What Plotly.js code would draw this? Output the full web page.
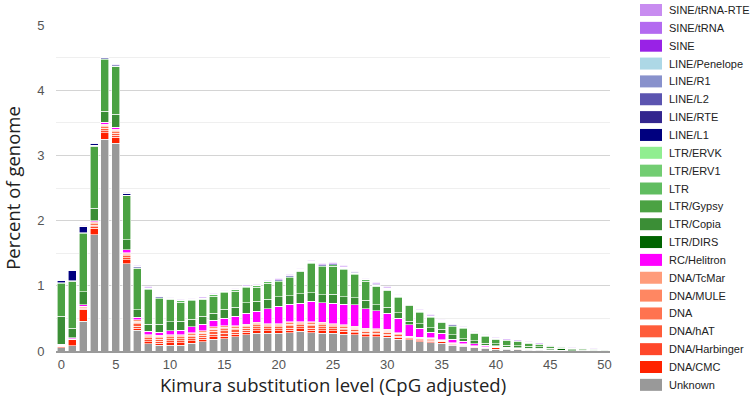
<!DOCTYPE html>
<html>
<head>
<meta charset="utf-8">
<script src="https://cdn.plot.ly/plotly-3.0.1.min.js"></script>
<style>
  html, body { margin: 0; padding: 0; background: #fff; }
  #repeatLandscape { width: 750px; height: 410px; }
</style>
</head>
<body>
<div id="repeatLandscape"></div>
<script>
// Kimura divergence bins (x axis)
const kimura = [0, 1, 2, 3, 4, 5, 6, 7, 8, 9, 10, 11, 12, 13, 14, 15, 16, 17, 18, 19, 20,
    21, 22, 23, 24, 25, 26, 27, 28, 29, 30, 31, 32, 33, 34, 35, 36, 37, 38, 39, 40,
    41, 42, 43, 44, 45, 46, 47, 48, 49, 50];

// percent of genome per repeat class, bottom of the stack first
const unknown = [0.05, 0.08, 0.46, 1.78, 3.25, 3.19, 1.34, 0.32, 0.11, 0.09, 0.09, 0.09, 0.12, 0.14, 0.18, 0.19, 0.22, 0.25, 0.27, 0.27, 0.27,
    0.28, 0.30, 0.28, 0.27, 0.27, 0.26, 0.25, 0.22, 0.22, 0.21, 0.18, 0.17, 0.14, 0.13, 0.12, 0.09, 0.07, 0.05, 0.04, 0.03,
    0.025, 0.02, 0.015, 0.01, 0.005, 0.005, 0.003, 0.002, 0.002, 0.002];
const dnaCMC = [0.02, 0.09, 0.18, 0.10, 0.10, 0.09, 0.06, 0.03, 0.03, 0.03, 0.04, 0.04, 0.04, 0.04, 0.04, 0.04, 0.04, 0.04, 0.04, 0.04, 0.04,
    0.04, 0.04, 0.04, 0.04, 0.04, 0.04, 0.03, 0.03, 0.03, 0.03, 0.03, 0.02, 0.02, 0.02, 0.02, 0.01, 0.01, 0.01, 0.01, 0.02,
    0.015, 0.01, 0.01, 0.01, 0.005, 0.003, 0.002, 0, 0, 0];
const dnaHarbinger = [0.005, 0.005, 0.015, 0.025, 0.03, 0.03, 0.03, 0.03, 0.03, 0.03, 0.03, 0.03, 0.03, 0.03, 0.04, 0.04, 0.03, 0.03, 0.03, 0.03, 0.03,
    0.03, 0.03, 0.03, 0.03, 0.03, 0.025, 0.025, 0.025, 0.02, 0.02, 0.02, 0.01, 0.01, 0.01, 0.01, 0.01, 0.01, 0.005, 0.005, 0.005,
    0.003, 0.003, 0.003, 0.003, 0.002, 0.001, 0, 0, 0, 0];
const dnaHAT = [0.005, 0.005, 0.01, 0.025, 0.035, 0.03, 0.03, 0.035, 0.03, 0.03, 0.03, 0.03, 0.03, 0.035, 0.04, 0.04, 0.035, 0.03, 0.035, 0.03, 0.03,
    0.035, 0.03, 0.035, 0.035, 0.03, 0.025, 0.025, 0.025, 0.025, 0.025, 0.02, 0.01, 0.015, 0.015, 0.008, 0.008, 0.008, 0.005, 0.004, 0.005,
    0.003, 0.003, 0.003, 0.003, 0.001, 0.001, 0.001, 0.001, 0.001, 0.001];
const dnaOther = [0.004, 0.004, 0.01, 0.02, 0.025, 0.025, 0.02, 0.025, 0.02, 0.025, 0.025, 0.025, 0.025, 0.025, 0.03, 0.03, 0.025, 0.025, 0.025, 0.02, 0.02,
    0.025, 0.02, 0.025, 0.025, 0.02, 0.02, 0.02, 0.02, 0.02, 0.02, 0.015, 0.01, 0.01, 0.01, 0.006, 0.006, 0.006, 0.005, 0.003, 0.005,
    0.002, 0.002, 0.002, 0.002, 0.001, 0.001, 0, 0, 0, 0];
const dnaMULE = [0.003, 0.003, 0.008, 0.015, 0.02, 0.018, 0.015, 0.02, 0.015, 0.018, 0.018, 0.018, 0.018, 0.02, 0.02, 0.025, 0.02, 0.018, 0.02, 0.015, 0.015,
    0.02, 0.015, 0.02, 0.02, 0.015, 0.015, 0.015, 0.015, 0.013, 0.013, 0.008, 0.005, 0.008, 0.008, 0.003, 0.003, 0.003, 0.003, 0.002, 0.003,
    0.001, 0.001, 0.001, 0.001, 0.001, 0, 0, 0, 0, 0];
const dnaTcMar = [0.003, 0.003, 0.007, 0.015, 0.02, 0.017, 0.015, 0.02, 0.015, 0.017, 0.017, 0.017, 0.017, 0.02, 0.02, 0.025, 0.02, 0.017, 0.02, 0.015, 0.015,
    0.02, 0.015, 0.02, 0.02, 0.015, 0.015, 0.015, 0.015, 0.012, 0.012, 0.007, 0.005, 0.007, 0.007, 0.003, 0.003, 0.003, 0.002, 0.001, 0.002,
    0.001, 0.001, 0.001, 0.001, 0, 0, 0, 0, 0, 0];
const rcHelitron = [0.015, 0.01, 0.02, 0.02, 0.03, 0.03, 0.04, 0.04, 0.05, 0.05, 0.06, 0.07, 0.09, 0.10, 0.10, 0.11, 0.14, 0.17, 0.17, 0.23, 0.27,
    0.27, 0.28, 0.31, 0.30, 0.31, 0.32, 0.33, 0.30, 0.28, 0.25, 0.22, 0.17, 0.14, 0.09, 0.10, 0.05, 0.04, 0.03, 0.025, 0.005,
    0.005, 0.003, 0.002, 0.002, 0.001, 0.001, 0, 0, 0, 0];
const ltrDIRS = [0, 0, 0, 0, 0, 0, 0, 0, 0, 0, 0, 0, 0, 0, 0, 0, 0, 0, 0, 0, 0,
    0, 0, 0, 0, 0, 0, 0, 0, 0, 0, 0, 0, 0, 0, 0, 0, 0, 0, 0, 0.003,
    0.003, 0.004, 0.005, 0.01, 0.02, 0.02, 0.015, 0.012, 0.01, 0.008];
const ltrCopia = [0.43, 0.15, 0.20, 0.19, 0.17, 0.20, 0.16, 0.11, 0.11, 0.12, 0.14, 0.14, 0.12, 0.12, 0.11, 0.14, 0.14, 0.16, 0.15, 0.14, 0.14,
    0.13, 0.15, 0.13, 0.12, 0.14, 0.11, 0.11, 0.13, 0.09, 0.09, 0.09, 0.06, 0.07, 0.07, 0.06, 0.07, 0.04, 0.05, 0.03, 0.03,
    0.03, 0.03, 0.03, 0.025, 0.01, 0.01, 0.01, 0.008, 0.007, 0.006];
const ltrGypsy = [0.50, 0.72, 0.89, 0.95, 0.79, 0.73, 0.67, 0.64, 0.53, 0.39, 0.34, 0.29, 0.28, 0.26, 0.26, 0.25, 0.25, 0.23, 0.22, 0.25, 0.23,
    0.27, 0.34, 0.45, 0.43, 0.43, 0.42, 0.35, 0.29, 0.28, 0.26, 0.23, 0.24, 0.17, 0.15, 0.11, 0.12, 0.15, 0.11, 0.10, 0.075,
    0.075, 0.07, 0.05, 0.035, 0.03, 0.015, 0.01, 0.008, 0.007, 0.005];
const ltrOther = [0.01, 0.01, 0.01, 0.01, 0.01, 0.01, 0.01, 0.01, 0.02, 0.02, 0.02, 0.02, 0.02, 0.02, 0.02, 0.02, 0.02, 0.02, 0.02, 0.02, 0.02,
    0.02, 0.02, 0.02, 0.02, 0.02, 0.02, 0.02, 0.02, 0.02, 0.02, 0.02, 0.02, 0.02, 0.02, 0.02, 0.02, 0.02, 0.02, 0.02, 0.01,
    0.01, 0.01, 0.01, 0.01, 0.005, 0.005, 0.005, 0.005, 0.005, 0.005];
const ltrERV1 = [0, 0, 0, 0.002, 0.002, 0.002, 0, 0, 0, 0, 0, 0, 0, 0, 0, 0, 0, 0, 0, 0, 0,
    0, 0, 0, 0, 0, 0, 0, 0, 0, 0, 0, 0, 0, 0, 0, 0, 0, 0, 0, 0,
    0, 0, 0, 0, 0, 0, 0, 0, 0, 0];
const ltrERVK = [0, 0, 0, 0, 0, 0, 0, 0, 0, 0, 0, 0, 0, 0, 0, 0, 0, 0, 0, 0, 0,
    0, 0, 0, 0, 0, 0, 0, 0, 0, 0, 0, 0, 0, 0, 0, 0, 0, 0, 0, 0,
    0, 0, 0, 0, 0, 0, 0, 0, 0, 0];
const lineL1 = [0.04, 0.15, 0.10, 0.03, 0.015, 0.015, 0.03, 0.02, 0.01, 0.01, 0.01, 0.01, 0.01, 0.01, 0.01, 0.01, 0.01, 0.01, 0.01, 0.01, 0.01,
    0.015, 0.01, 0.01, 0.01, 0.015, 0.015, 0.02, 0.01, 0.015, 0.01, 0.01, 0.01, 0.015, 0.01, 0.015, 0.01, 0.005, 0.005, 0.005, 0.002,
    0.002, 0.002, 0.002, 0.002, 0.002, 0.002, 0.002, 0.002, 0.002, 0.002];
const lineRTE = [0, 0, 0, 0, 0, 0, 0, 0, 0, 0, 0, 0, 0, 0, 0, 0, 0, 0, 0, 0, 0.003,
    0.003, 0.003, 0.003, 0.003, 0.003, 0.003, 0.003, 0.003, 0.003, 0.003, 0.003, 0, 0, 0, 0, 0, 0, 0, 0, 0,
    0, 0, 0, 0, 0, 0, 0, 0, 0, 0];
const lineL2 = [0, 0, 0, 0, 0, 0, 0, 0, 0, 0, 0, 0, 0, 0, 0, 0, 0, 0, 0, 0, 0,
    0, 0, 0, 0, 0, 0, 0, 0, 0, 0, 0, 0, 0, 0, 0, 0, 0, 0, 0, 0,
    0, 0, 0, 0, 0, 0, 0, 0, 0, 0];
const lineR1 = [0, 0, 0, 0, 0, 0, 0, 0, 0, 0, 0, 0, 0, 0, 0, 0, 0, 0, 0, 0, 0,
    0, 0, 0, 0, 0, 0, 0, 0, 0, 0, 0, 0, 0, 0, 0, 0, 0, 0, 0, 0,
    0, 0, 0, 0, 0, 0, 0, 0, 0, 0];
const linePenelope = [0, 0, 0, 0, 0, 0, 0, 0, 0, 0, 0, 0, 0, 0, 0, 0, 0, 0, 0, 0, 0,
    0, 0, 0, 0, 0, 0, 0, 0, 0, 0, 0, 0, 0, 0, 0, 0, 0, 0, 0, 0,
    0, 0, 0, 0, 0, 0, 0, 0, 0, 0];
const sine = [0, 0, 0.002, 0, 0, 0, 0.002, 0.002, 0.002, 0, 0, 0, 0, 0, 0.002, 0.002, 0.002, 0.002, 0.002, 0.002, 0.002,
    0.003, 0.002, 0.004, 0.002, 0.003, 0.003, 0.002, 0.002, 0.003, 0.004, 0.002, 0, 0.003, 0.002, 0, 0, 0, 0, 0, 0,
    0, 0, 0, 0, 0, 0, 0, 0, 0, 0];
const sineTRNA = [0.006, 0.006, 0.012, 0.006, 0.006, 0.006, 0.012, 0.012, 0.012, 0.006, 0.006, 0.006, 0.01, 0.01, 0.012, 0.012, 0.012, 0.012, 0.012, 0.012, 0.012,
    0.016, 0.012, 0.018, 0.012, 0.016, 0.016, 0.012, 0.012, 0.016, 0.018, 0.012, 0.006, 0.016, 0.012, 0.01, 0.006, 0.01, 0.01, 0.01, 0.014,
    0.01, 0.01, 0.01, 0.01, 0.006, 0.006, 0.005, 0.004, 0.004, 0.003];
const sineTRNARTE = [0.004, 0.004, 0.006, 0.004, 0.004, 0.004, 0.006, 0.006, 0.006, 0.004, 0.004, 0.004, 0.005, 0.005, 0.006, 0.006, 0.006, 0.006, 0.006, 0.006, 0.006,
    0.006, 0.006, 0.008, 0.006, 0.006, 0.006, 0.006, 0.006, 0.006, 0.008, 0.006, 0.004, 0.006, 0.006, 0.005, 0.004, 0.005, 0.005, 0.005, 0.006,
    0.005, 0.005, 0.005, 0.005, 0.004, 0.004, 0.003, 0.003, 0.003, 0.003];

const repeatClasses = [
    { name: "Unknown", values: unknown, colour: "#999999" },
    { name: "DNA/CMC", values: dnaCMC, colour: "#ff2200" },
    { name: "DNA/Harbinger", values: dnaHarbinger, colour: "#ff472a" },
    { name: "DNA/hAT", values: dnaHAT, colour: "#ff5c3a" },
    { name: "DNA", values: dnaOther, colour: "#ff7350" },
    { name: "DNA/MULE", values: dnaMULE, colour: "#ff8762" },
    { name: "DNA/TcMar", values: dnaTcMar, colour: "#ff9c7a" },
    { name: "RC/Helitron", values: rcHelitron, colour: "#ff00ff" },
    { name: "LTR/DIRS", values: ltrDIRS, colour: "#006400" },
    { name: "LTR/Copia", values: ltrCopia, colour: "#3b8e36" },
    { name: "LTR/Gypsy", values: ltrGypsy, colour: "#4ba243" },
    { name: "LTR", values: ltrOther, colour: "#60bd60" },
    { name: "LTR/ERV1", values: ltrERV1, colour: "#72cd72" },
    { name: "LTR/ERVK", values: ltrERVK, colour: "#90ee90" },
    { name: "LINE/L1", values: lineL1, colour: "#00007f" },
    { name: "LINE/RTE", values: lineRTE, colour: "#33268e" },
    { name: "LINE/L2", values: lineL2, colour: "#5b54b0" },
    { name: "LINE/R1", values: lineR1, colour: "#8891cc" },
    { name: "LINE/Penelope", values: linePenelope, colour: "#add8e6" },
    { name: "SINE", values: sine, colour: "#9922e6" },
    { name: "SINE/tRNA", values: sineTRNA, colour: "#b36af0" },
    { name: "SINE/tRNA-RTE", values: sineTRNARTE, colour: "#c88cf0" }
];

const data = repeatClasses.map(rc => ({
    x: kimura,
    y: rc.values,
    name: rc.name,
    type: "bar",
    marker: { color: rc.colour, line: { color: "#ffffff", width: 0.6 } },
    hovertemplate: `<b>%{x}</b><br>${rc.name}: %{y}%<extra></extra>`
}));

// plotly's own legend can't go tighter than 19px per row, so draw it by hand
const margin = { l: 56, r: 140, t: 25, b: 59 };
const plotW = 750 - margin.l - margin.r;
const plotH = 410 - margin.t - margin.b;
const px2x = px => (px - margin.l) / plotW;   // pixel -> paper coords
const py2y = py => (410 - margin.b - py) / plotH;

const legendShapes = [];
const legendLabels = [];
repeatClasses.slice().reverse().forEach((rc, i) => {
    const cy = 10 + 17.85 * i; // row centre, pixels from the top
    legendShapes.push({
        type: "rect", xref: "paper", yref: "paper",
        x0: px2x(640), x1: px2x(662), y0: py2y(cy + 6), y1: py2y(cy - 6),
        fillcolor: rc.colour, line: { width: 0 }
    });
    legendLabels.push({
        xref: "paper", yref: "paper", x: px2x(667), y: py2y(cy),
        xanchor: "left", yanchor: "middle", showarrow: false,
        text: rc.name,
        font: { family: "Liberation Sans, Arial, sans-serif", size: 11, color: "#222222" }
    });
});

const layout = {
    width: 750,
    height: 410,
    barmode: "stack",
    bargap: 0.26,
    margin: margin,
    showlegend: false,
    paper_bgcolor: "#ffffff",
    plot_bgcolor: "#ffffff",
    font: { family: "Liberation Sans, Arial, sans-serif", size: 12, color: "#444444" },
    xaxis: {
        title: {
            text: "Kimura substitution level (CpG adjusted)",
            font: { family: "Open Sans, sans-serif", size: 18.5, color: "#222222" },
            standoff: 8
        },
        range: [-0.5, 50.5],
        tickmode: "linear",
        tick0: 0,
        dtick: 5,
        showgrid: false,
        zeroline: false,
        showline: true,
        linecolor: "#9a9a9a",
        linewidth: 2,
        ticks: "",
        tickfont: { size: 13, color: "#555555" }
    },
    yaxis: {
        title: {
            text: "Percent of genome",
            font: { family: "Open Sans, sans-serif", size: 18.5, color: "#222222" },
            standoff: 13
        },
        range: [0, 5],
        dtick: 1,
        gridcolor: "#d4d4d4",
        gridwidth: 1,
        minor: { dtick: 0.5, showgrid: true, gridcolor: "#efefef", gridwidth: 1 },
        zeroline: false,
        ticks: "outside",
        ticklen: 8,
        tickcolor: "rgba(0,0,0,0)",
        tickfont: { size: 13, color: "#555555" }
    },
    shapes: legendShapes,
    annotations: legendLabels
};

Plotly.newPlot("repeatLandscape", data, layout, { displayModeBar: false, responsive: false });
</script>
</body>
</html>
